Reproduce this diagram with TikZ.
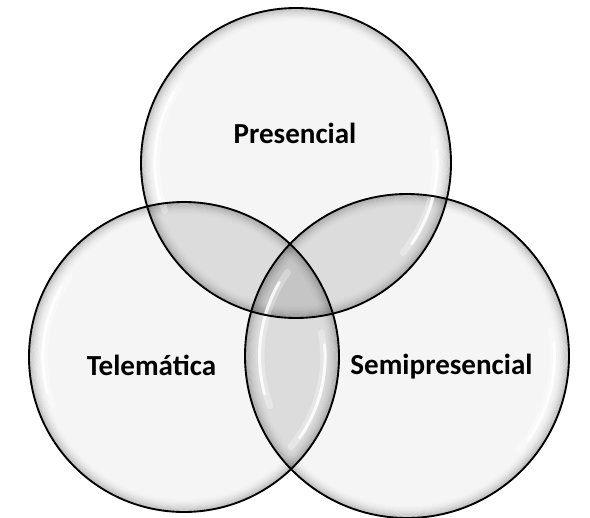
\documentclass[tikz,border=0pt]{standalone}
\usepackage{fontspec}
\setmainfont{Carlito}
\tikzset{
  bubblefill/.style={fill=black!4},
  outline/.style={draw=black, line width=1.4pt},
  shine/.style={draw=white, line width=2.2pt, opacity=0.8, line cap=round},
  shinesoft/.style={draw=white, line width=5pt, opacity=0.3, line cap=round},
  overlap/.style={fill=black, fill opacity=0.1},
  label/.style={font=\bfseries\fontsize{21.8}{26}\selectfont, text=black, anchor=base, inner sep=0pt}
}
\begin{document}
\begin{tikzpicture}[x=0.75pt,y=-0.75pt]
\useasboundingbox (0,0) rectangle (590,518);
\fill[white] (0,0) rectangle (590,518);
\coordinate (T) at (296,163);
\coordinate (L) at (184,357);
\coordinate (R) at (407,356);
\def\rT{116.25}
\def\rL{116.25}
\def\rR{121.5}
% base fills
\fill[bubblefill] (T) circle[radius=\rT pt];
\fill[bubblefill] (L) circle[radius=\rL pt];
\fill[bubblefill] (R) circle[radius=\rR pt];
% overlaps
\begin{scope}
  \clip (T) circle[radius=\rT pt];
  \fill[overlap] (L) circle[radius=\rL pt];
  \fill[overlap] (R) circle[radius=\rR pt];
\end{scope}
\begin{scope}
  \clip (L) circle[radius=\rL pt];
  \clip (R) circle[radius=\rR pt];
  \fill[overlap, even odd rule] (0,0) rectangle (590,518) (T) circle[radius=\rT pt];
\end{scope}
% rim shading (inner gradient)
\foreach \c/\r in {T/\rT, L/\rL, R/\rR}{
  \foreach \i in {1,...,14}{
    \pgfmathsetmacro{\op}{0.22*(1-\i/15)^2}
    \pgfmathsetmacro{\rr}{\r-0.7*\i}
    \draw[black, line width=0.75pt, draw opacity=\op] (\c) circle[radius=\rr pt];
  }
}
% highlights
\foreach \c/\r in {T/\rT, L/\rL, R/\rR}{
  \draw[shinesoft] ([shift={(145:0.9*\r pt)}]\c) arc[start angle=145, end angle=200, radius=0.9*\r pt];
  \draw[shine] ([shift={(150:0.91*\r pt)}]\c) arc[start angle=150, end angle=195, radius=0.91*\r pt];
  \draw[shinesoft] ([shift={(-40:0.9*\r pt)}]\c) arc[start angle=-40, end angle=10, radius=0.9*\r pt];
  \draw[shine] ([shift={(-35:0.91*\r pt)}]\c) arc[start angle=-35, end angle=5, radius=0.91*\r pt];
}
% outlines
\draw[outline] (T) circle[radius=\rT pt];
\draw[outline] (L) circle[radius=\rL pt];
\draw[outline] (R) circle[radius=\rR pt];
% labels
\node[label] (pres) at (295,143) {Presencial};
\node[label] (tele) at (151.5,375) {Telemática};
\node[label] (semi) at (441.5,374) {Semipresencial};
\end{tikzpicture}
\end{document}
